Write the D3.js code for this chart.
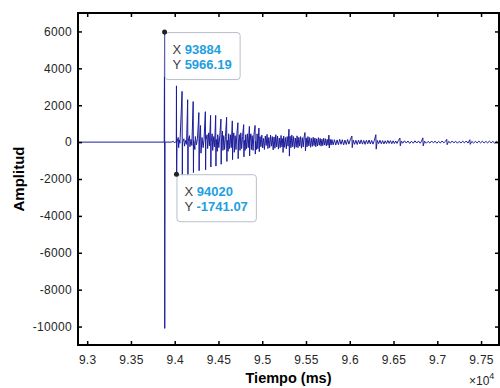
<!DOCTYPE html>
<html>
<head>
<meta charset="utf-8">
<script src="https://cdn.jsdelivr.net/npm/d3@7"></script>
<style>
  body { margin: 0; background: #fff; }
  svg { display: block; font-family: "Liberation Sans", Arial, sans-serif; }
</style>
</head>
<body>
<div id="chart"></div>
<script>
// datos (tiempo en ms, amplitud)
var xTicks = [93000, 93500, 94000, 94500, 95000, 95500, 96000, 96500, 97000, 97500];
var xTickLabels = ["9.3", "9.35", "9.4", "9.45", "9.5", "9.55", "9.6", "9.65", "9.7", "9.75"];
var yTicks = [-10000, -8000, -6000, -4000, -2000, 0, 2000, 4000, 6000];

var datatips = [
  { x: 93884, y: 5966.19, ys: "5966.19" },
  { x: 94020, y: -1741.07, ys: "-1741.07" },
];

var senal = [
  [92895,0],[93880,0],[93884,5966.19],[93886,-10100],[93889,0],[93960,0],[93985,40],[93995,-30],[94010,0],
  [94018,0],[94020,3050],[94022,-1741.07],[94026,0],[94040,250],[94045,-300],[94052,120],[94060,-60],
  [94084,2750],[94087,-1950],[94090,0],[94105,180],[94112,-220],[94125,90],[94135,-120],
  [94148,2300],[94151,-1850],[94154,50],[94168,350],[94174,-250],[94186,150],[94196,-180],
  [94211,2200],[94214,-1650],[94217,80],[94230,-400],[94236,300],[94248,-150],[94260,200],
  [94276,1600],[94279,-1550],[94282,-50],[94295,900],[94300,-600],[94312,250],[94325,-300],[94335,150],
  [94350,1650],[94353,-1500],[94356,100],[94370,400],[94376,-350],[94388,500],[94396,-200],
  [94410,1450],[94413,-1350],[94416,0],[94428,450],[94434,-450],[94446,300],[94455,-250],
  [94468,1450],[94471,-1300],[94474,150],[94486,-500],[94492,400],[94504,-300],[94515,350],
  [94528,1250],[94531,-1200],[94534,0],[94545,600],[94551,-450],[94560,350],[94570,-400],[94580,300],
  [94593,1350],[94596,-1050],[94599,100],[94610,-500],[94616,450],[94626,-350],[94636,400],[94646,-300],
  [94658,1150],[94661,-950],[94664,50],[94675,500],[94681,-550],[94690,350],[94700,-400],[94710,450],
  [94722,1050],[94725,-900],[94728,-100],[94740,400],[94746,-450],[94755,500],[94765,-350],[94775,300],
  [94788,950],[94791,-800],[94794,100],[94805,-450],[94811,400],[94820,-350],[94830,450],[94840,-300],
  [94853,850],[94856,-750],[94859,0],[94870,450],[94876,-400],[94885,350],[94895,-450],[94905,400],
  [94918,900],[94921,-650],[94924,50],[94935,-400],[94941,450],[94950,-350],
  [94962,760],[94966,-520],[94975,300],[94985,-250],[94995,380],[95005,-320],[95015,200],[95025,-400],
  [95035,330],[95045,-180],[95055,420],[95065,-350],[95075,250],[95085,-300],[95095,380],[95105,-220],
  [95115,300],[95125,-420],[95135,280],[95145,-330],[95155,400],[95165,-260],[95175,330],[95185,-380],
  [95195,220],[95205,-300],[95215,360],[95225,-250],[95235,200],[95238,-560],[95245,330],[95255,-280],
  [95265,250],[95275,-360],[95285,300],[95295,-220],[95305,700],[95310,-760],[95318,320],[95328,-300],
  [95338,380],[95348,-250],[95358,300],[95368,-350],[95378,220],[95388,-280],[95398,340],[95408,-300],
  [95418,260],[95428,-220],[95438,300],[95448,-330],[95458,240],[95468,-260],[95478,280],[95488,520],
  [95494,-480],[95502,230],[95512,-260],[95522,300],[95532,-200],[95542,250],[95552,-280],[95562,200],
  [95572,-230],[95582,260],[95592,-190],[95602,220],[95612,-250],[95622,180],[95632,-210],[95642,240],
  [95652,-170],[95662,200],[95672,-220],[95682,160],[95692,-190],[95702,210],[95712,-160],[95722,180],
  [95732,-200],[95742,150],[95752,-170],[95762,380],[95766,-320],[95776,150],[95786,-160],[95796,140],
  [95810,-150],[95825,130],[95840,-160],[95855,120],[95870,-140],[95885,150],[95900,-120],[95915,130],
  [95930,-150],[95945,110],[95960,-130],[95975,140],[95990,-110],[96005,120],[96024,330],[96028,-300],
  [96040,110],[96055,-120],[96070,100],[96085,-130],[96100,110],[96115,-100],[96130,120],[96145,-110],
  [96160,90],[96175,-120],[96190,100],[96205,-90],[96220,110],[96235,-100],[96250,90],[96265,-110],
  [96280,80],[96298,400],[96302,-380],[96315,90],[96330,-80],[96345,100],[96360,-90],[96375,80],
  [96390,-100],[96405,70],[96420,-80],[96435,90],[96450,-70],[96465,80],[96480,-90],[96495,70],
  [96510,-80],[96525,60],[96540,-70],[96555,80],[96573,220],[96577,-200],[96590,60],
  [96605,-60],[96625,70],[96645,-50],[96665,60],[96685,-70],[96705,50],[96725,-60],[96745,70],
  [96765,-50],[96785,60],[96805,-60],[96820,50],[96835,230],[96839,-200],[96855,50],[96875,-60],
  [96895,40],[96915,-50],[96935,60],[96955,-40],[96975,50],[96995,-60],[97015,40],[97035,-50],
  [97055,60],[97075,-40],[97095,50],[97108,150],[97112,-140],[97130,40],[97150,-50],[97170,60],
  [97190,-40],[97210,50],[97230,-60],[97250,40],[97270,-50],[97290,50],[97310,-40],[97330,60],
  [97350,-50],[97372,130],[97376,-120],[97395,40],[97415,-50],[97435,40],[97455,-40],[97475,50],
  [97495,-40],[97515,50],[97535,-50],[97555,40],[97575,-40],[97595,50],[97615,-40],[97635,40],
  [97655,-50],[97675,40],[97695,-30],[97705,0],
];

var width = 500;
var height = 388;
var margin = { top: 13, right: 1, bottom: 43, left: 78 };

var svg = d3
  .select("#chart")
  .append("svg")
  .attr("width", width)
  .attr("height", height);

var x = d3
  .scaleLinear()
  .domain([92895, 97705])
  .range([margin.left, width - margin.right]);

var y = d3
  .scaleLinear()
  .domain([-11000, 7000])
  .range([height - margin.bottom, margin.top]);

svg.append("clipPath")
  .attr("id", "clip")
  .append("rect")
  .attr("x", margin.left)
  .attr("y", margin.top)
  .attr("width", width - margin.left - margin.right)
  .attr("height", height - margin.top - margin.bottom);

// senal
var line = d3.line().x((d) => x(d[0])).y((d) => y(d[1]));

svg.append("path")
  .datum(senal)
  .attr("clip-path", "url(#clip)")
  .attr("fill", "none")
  .attr("stroke", "#1c1c9a")
  .attr("stroke-width", 1)
  .attr("d", line);

// ejes estilo matlab, ticks hacia dentro
const estiloEje = (g) => {
  g.select(".domain").remove();
  g.selectAll(".tick line").attr("stroke", "#000").attr("stroke-width", 1.5);
  g.selectAll(".tick text")
    .attr("fill", "#262626")
    .style("font-size", "12px")
    .style("letter-spacing", "0.3px");
};

svg.append("g")
  .attr("transform", `translate(0 ${height - margin.bottom})`)
  .call(d3.axisBottom(x).tickValues(xTicks).tickSizeInner(-4).tickSizeOuter(0)
    .tickPadding(10).tickFormat((d, i) => xTickLabels[i]))
  .call(estiloEje);

svg.append("g")
  .attr("transform", `translate(0 ${margin.top})`)
  .call(d3.axisTop(x).tickValues(xTicks).tickSizeInner(-4).tickSizeOuter(0).tickFormat(""))
  .call(estiloEje);

svg.append("g")
  .attr("transform", `translate(${margin.left} 0)`)
  .call(d3.axisLeft(y).tickValues(yTicks).tickSizeInner(-4).tickSizeOuter(0)
    .tickPadding(6).tickFormat((d) => String(d)))
  .call(estiloEje);

svg.append("g")
  .attr("transform", `translate(${width - margin.right} 0)`)
  .call(d3.axisRight(y).tickValues(yTicks).tickSizeInner(-4).tickSizeOuter(0).tickFormat(""))
  .call(estiloEje);

// marco
svg.append("rect")
  .attr("x", margin.left)
  .attr("y", margin.top)
  .attr("width", width - margin.left - margin.right)
  .attr("height", height - margin.top - margin.bottom)
  .attr("fill", "none")
  .attr("stroke", "#000")
  .attr("stroke-width", 2);

// titulos de ejes
svg.append("text")
  .text("Tiempo (ms)")
  .attr("x", (margin.left + width - margin.right) / 2)
  .attr("y", 383)
  .attr("text-anchor", "middle")
  .attr("fill", "#000")
  .style("font-size", "14.5px")
  .style("font-weight", "bold");

svg.append("text")
  .text("Amplitud")
  .attr("transform", `translate(24 ${(margin.top + height - margin.bottom) / 2}) rotate(-90)`)
  .attr("text-anchor", "middle")
  .attr("fill", "#000")
  .style("font-size", "15px")
  .style("font-weight", "bold");

var exp = svg.append("text")
  .attr("x", 469)
  .attr("y", 385)
  .attr("fill", "#262626")
  .style("font-size", "12px");
exp.append("tspan").text("\u00d710");
exp.append("tspan").text("4").attr("dy", -6).style("font-size", "9px");

// datatips
datatips.forEach((d) => {
  var px = x(d.x);
  var py = y(d.y);
  var g = svg.append("g");
  var box = g.append("rect")
    .attr("x", px + 0.5)
    .attr("y", py + 0.5)
    .attr("rx", 3)
    .attr("fill", "rgba(255,255,255,0.95)")
    .attr("stroke", "#b7bfcc")
    .attr("stroke-width", 1);

  var t = g.append("g").style("font-size", "13px");
  var t1 = t.append("text").attr("x", px + 8).attr("y", py + 22);
  t1.append("tspan").text("X ").attr("fill", "#404040");
  t1.append("tspan").text(d.x).attr("fill", "#1e9fe0").style("font-weight", "bold");
  var t2 = t.append("text").attr("x", px + 8).attr("y", py + 37);
  t2.append("tspan").text("Y ").attr("fill", "#404040");
  t2.append("tspan").text(d.ys).attr("fill", "#1e9fe0").style("font-weight", "bold");

  var w = Math.max(t1.node().getComputedTextLength(), t2.node().getComputedTextLength());
  box.attr("width", w + 16).attr("height", 47);

  g.append("circle")
    .attr("cx", px)
    .attr("cy", py)
    .attr("r", 2.5)
    .attr("fill", "#222");
});
</script>
</body>
</html>
